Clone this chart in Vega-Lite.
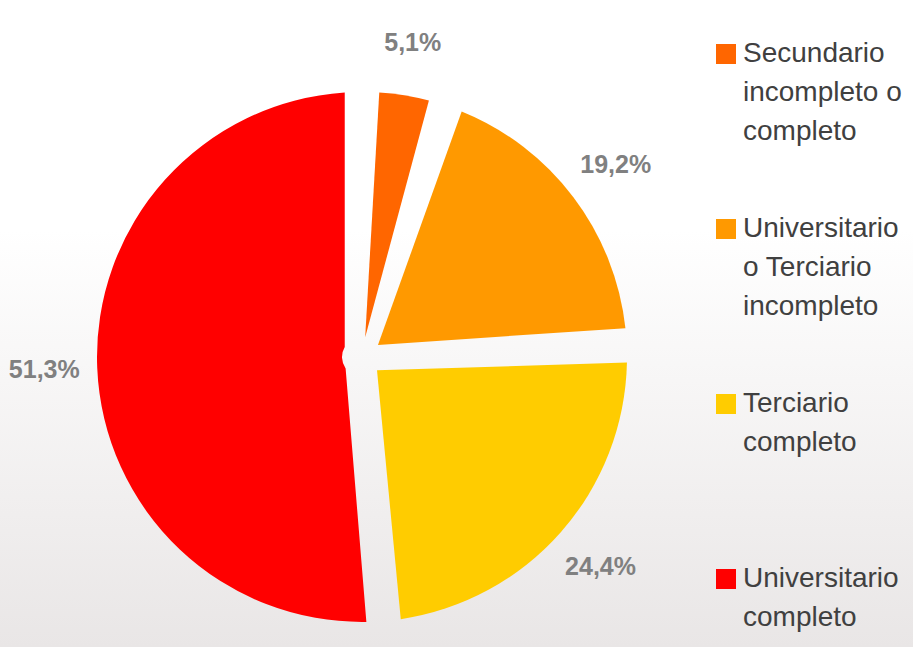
{
  "$schema": "https://vega.github.io/schema/vega-lite/v6.json",
  "width": 1102,
  "height": 580,
  "autosize": {"type": "none"},
  "padding": {"left": -189, "top": 67, "right": 0, "bottom": 0},
  "background": "#ffffff",
  "view": {
    "stroke": null,
    "fill": {
      "gradient": "linear",
      "x1": 0, "y1": 0, "x2": 0, "y2": 1,
      "stops": [
        {"offset": 0, "color": "#ffffff"},
        {"offset": 0.28, "color": "#ffffff"},
        {"offset": 1, "color": "#e9e6e6"}
      ]
    }
  },
  "config": {
    "locale": {
      "number": {"decimal": ",", "thousands": ".", "grouping": [3], "currency": ["", " €"]}
    },
    "font": "Liberation Sans",
    "style": {"guide-label": {"lineHeight": 39, "dy": -14}}
  },
  "data": {
    "values": [
      {"categoria": "Secundario incompleto o completo", "valor": 0.051, "orden": 1},
      {"categoria": "Universitario o Terciario incompleto", "valor": 0.192, "orden": 2},
      {"categoria": "Terciario completo", "valor": 0.244, "orden": 3},
      {"categoria": "Universitario completo", "valor": 0.513, "orden": 4}
    ]
  },
  "encoding": {
    "theta": {"field": "valor", "type": "quantitative", "stack": true},
    "order": {"field": "orden", "type": "quantitative"}
  },
  "layer": [
    {
      "mark": {"type": "arc", "radius": 265, "innerRadius": 20, "padAngle": 0.13, "stroke": null},
      "encoding": {
        "color": {
          "field": "categoria",
          "type": "nominal",
          "scale": {
            "domain": ["Secundario incompleto o completo", "Universitario o Terciario incompleto", "Terciario completo", "Universitario completo"],
            "range": ["#FF6600", "#FF9900", "#FFCC00", "#FF0000"]
          },
          "legend": {
            "orient": "none",
            "legendX": 901,
            "legendY": -27,
            "title": null,
            "padding": 0,
            "symbolType": "square",
            "symbolSize": 400,
            "symbolStrokeWidth": 0,
            "symbolOpacity": 1,
            "labelFont": "Liberation Sans",
            "labelFontSize": 28,
            "labelColor": "#404040",
            "labelBaseline": "top",
            "labelLimit": 300,
            "labelOffset": 3,
            "gridAlign": "all",
            "rowPadding": 69,
            "labelExpr": "datum.label == 'Secundario incompleto o completo' ? ['Secundario', 'incompleto o', 'completo'] : datum.label == 'Universitario o Terciario incompleto' ? ['Universitario', 'o Terciario', 'incompleto'] : datum.label == 'Terciario completo' ? ['Terciario', 'completo'] : ['Universitario', 'completo']",
            "encode": {"labels": {"enter": {"lineHeight": {"value": 39}, "dy": {"value": -14}}, "update": {"lineHeight": {"value": 39}, "dy": {"value": -14}}}}
          }
        }
      }
    },
    {
      "mark": {"type": "text", "radius": 318, "fontSize": 25, "fontWeight": "bold", "color": "#808080", "font": "Liberation Sans"},
      "encoding": {
        "text": {"field": "valor", "type": "quantitative", "format": ".1%"},
        "detail": {"field": "categoria", "type": "nominal"}
      }
    }
  ]
}
